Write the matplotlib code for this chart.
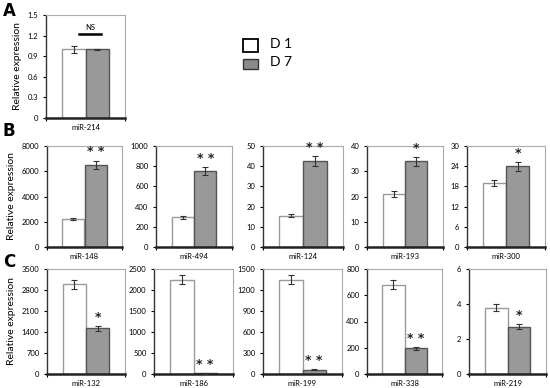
import matplotlib
matplotlib.use("Agg")
import matplotlib.pyplot as plt
import numpy as np
from matplotlib.patches import Rectangle

plt.rcParams['font.family'] = ['Lato', 'DejaVu Sans']

# ---- data ----
a_names = ["miR-214"]
a_d1 = [1.0]; a_d1_err = [0.05]
a_d7 = [1.0]; a_d7_err = [0.006]
a_ymax = [1.5]; a_step = [0.3]
a_sig = ["NS"]

b_names = ["miR-148", "miR-494", "miR-124", "miR-193", "miR-300"]
b_d1 = [2250, 295, 15.5, 21, 19]
b_d1_err = [80, 15, 0.8, 1.0, 1.0]
b_d7 = [6500, 750, 42.5, 34, 24]
b_d7_err = [350, 40, 2.5, 1.8, 1.3]
b_ymax = [8000, 1000, 50, 40, 30]
b_step = [2000, 200, 10, 10, 6]
b_sig = ["**", "**", "**", "*", "*"]

c_names = ["miR-132", "miR-186", "miR-199", "miR-338", "miR-219"]
c_d1 = [3000, 2250, 1350, 680, 3.8]
c_d1_err = [150, 110, 60, 35, 0.2]
c_d7 = [1530, 12, 60, 195, 2.7]
c_d7_err = [80, 3, 6, 12, 0.15]
c_ymax = [3500, 2500, 1500, 800, 6]
c_step = [700, 500, 300, 200, 2]
c_sig = ["*", "**", "**", "**", "*"]

legend_labels = ["D 1", "D 7"]

W, H = 550, 388
fig = plt.figure(figsize=(5.5, 3.88), dpi=100)

def ax_at(x0, x1, y0, y1):
    return fig.add_axes([x0 / W, 1 - y1 / H, (x1 - x0) / W, (y1 - y0) / H])

GRAY = "#999999"
BW = 0.295

def fmt(v, step):
    if step < 1:
        return "0" if v == 0 else f"{v:.1f}"
    return f"{int(round(v))}"

def draw(ax, name, d1, e1, d7, e7, ymax, step, sig, ylabel=False):
    xc = 0.5
    ax.bar(xc - BW / 2, d1, BW, color="white", edgecolor="#9a9a9a", linewidth=1.0, zorder=2)
    ax.bar(xc + BW / 2, d7, BW, color=GRAY, edgecolor="#555555", linewidth=1.0, zorder=2)
    ax.errorbar([xc - BW / 2], [d1], yerr=[e1], fmt="none", ecolor="#333333",
                elinewidth=0.8, capsize=2, capthick=0.8, zorder=3)
    ax.errorbar([xc + BW / 2], [d7], yerr=[e7], fmt="none", ecolor="#333333",
                elinewidth=0.8, capsize=2, capthick=0.8, zorder=3)
    ax.set_xlim(0, 1)
    ax.set_ylim(0, ymax)
    ticks = np.arange(0, ymax + step / 2, step)
    ax.set_yticks(ticks)
    ax.set_yticklabels([fmt(t, step) for t in ticks], fontsize=5.5)
    ax.set_xticks([xc])
    ax.set_xticklabels([name], fontsize=5.5)
    ax.tick_params(axis="x", length=0, pad=4)
    ax.tick_params(axis="y", length=2.5, width=0.8, pad=3, direction="out")
    ax.set_xticks([0, 1], minor=True)
    ax.tick_params(axis="x", which="minor", length=2.5, width=0.8, direction="out")
    for s in ("top", "right"):
        ax.spines[s].set_color("#aaaaaa")
        ax.spines[s].set_linewidth(0.8)
    ax.spines["left"].set_color("#333333")
    ax.spines["left"].set_linewidth(1.0)
    ax.spines["bottom"].set_color("#222222")
    ax.spines["bottom"].set_linewidth(1.8)
    if sig in ("*", "**"):
        top = d7 + e7
        ax.text(xc + BW / 2, top + ymax * 0.02, sig.replace("**", "* *"),
                ha="center", va="bottom", fontsize=9, fontweight="bold", color="#222222",
                family="DejaVu Sans")
    if ylabel:
        ax.set_ylabel("Relative expression", fontsize=7.5, labelpad=4)

# Panel A
axA = ax_at(46, 125, 15, 118)
draw(axA, a_names[0], a_d1[0], a_d1_err[0], a_d7[0], a_d7_err[0], a_ymax[0], a_step[0], a_sig[0], ylabel=True)
axA.plot([0.42, 0.7], [1.23, 1.23], color="black", lw=1.8)
axA.text(0.56, 1.26, a_sig[0], ha="center", va="bottom", fontsize=5.5)

b_x = [(47, 122), (156, 232), (263, 343), (367, 443), (467, 545)]
c_x = [(47, 125), (154, 233), (263, 342), (367, 442), (469, 546)]
for i in range(5):
    ax = ax_at(b_x[i][0], b_x[i][1], 146, 247)
    draw(ax, b_names[i], b_d1[i], b_d1_err[i], b_d7[i], b_d7_err[i], b_ymax[i], b_step[i], b_sig[i], ylabel=(i == 0))
for i in range(5):
    ax = ax_at(c_x[i][0], c_x[i][1], 269, 374)
    draw(ax, c_names[i], c_d1[i], c_d1_err[i], c_d7[i], c_d7_err[i], c_ymax[i], c_step[i], c_sig[i], ylabel=(i == 0))

# Panel letters
for lab, y in (("A", 11), ("B", 131), ("C", 262)):
    fig.text(3 / W, 1 - y / H, lab, fontsize=12, fontweight="bold", ha="left", va="center",
             family="DejaVu Sans")

# Legend
fig.patches.append(Rectangle((243 / W, 1 - 52 / H), 15 / W, 13 / H, transform=fig.transFigure,
                             facecolor="white", edgecolor="black", linewidth=1.3))
fig.patches.append(Rectangle((243 / W, 1 - 69 / H), 15 / W, 10 / H, transform=fig.transFigure,
                             facecolor="#8a8a8a", edgecolor="#333333", linewidth=1.0))
fig.text(270 / W, 1 - 44 / H, legend_labels[0], fontsize=10, va="center", ha="left")
fig.text(270 / W, 1 - 62 / H, legend_labels[1], fontsize=10, va="center", ha="left")

fig.savefig("out.png", dpi=100)
